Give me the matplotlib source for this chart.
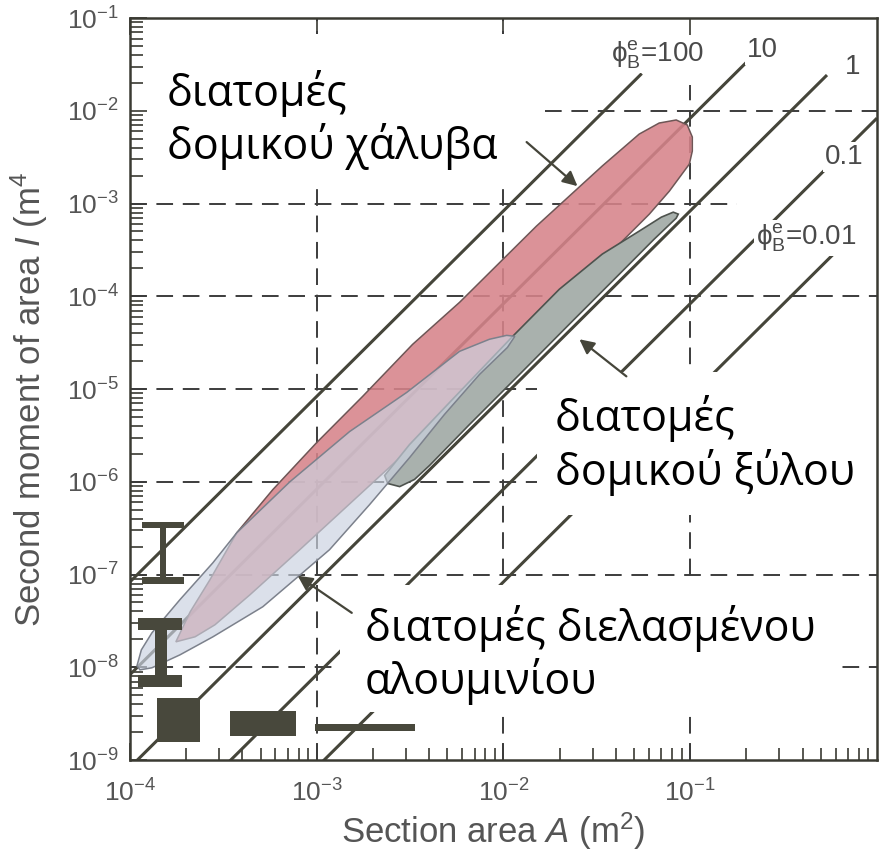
import numpy as np
import matplotlib
matplotlib.use('Agg')
import matplotlib.pyplot as plt
from matplotlib.colors import to_rgba
from matplotlib.patches import Rectangle
from matplotlib.ticker import LogLocator, NullFormatter

plt.rcParams['font.family'] = ['Liberation Sans', 'DejaVu Sans']
plt.rcParams['mathtext.fontset'] = 'custom'
plt.rcParams['mathtext.rm'] = 'Liberation Sans'
plt.rcParams['mathtext.it'] = 'Liberation Sans:italic'
plt.rcParams['mathtext.bf'] = 'Liberation Sans:bold'
plt.rcParams['lines.scale_dashes'] = False

# 1. Shape factor guide lines, I = phi * A^2 / 12
phi_values = [100, 10, 1, 0.1, 0.01]
phi_A_end = [0.055, 0.2, 0.54, 1.0, 0.6]
phi_labels = ['ϕ$^{\\rm e}_{\\rm B}$=100', '10', '1', '0.1', 'ϕ$^{\\rm e}_{\\rm B}$=0.01']

# 2. Envelopes (section area A [m2], second moment I [m4])
steel_A = [1.76e-4, 2.10e-4, 2.68e-4, 3.73e-4, 5.82e-4, 1.0e-3, 1.76e-3, 3.26e-3, 5.82e-3,
           1.50e-2, 3.38e-2, 5.33e-2, 6.82e-2, 8.41e-2, 9.64e-2, 0.1026, 0.1026, 0.0989,
           0.0773, 6.04e-2, 4.17e-2, 2.55e-2, 1.56e-2, 7.45e-3, 3.56e-3, 1.70e-3, 8.11e-4,
           4.39e-4, 2.85e-4, 2.23e-4]
steel_I = [1.88e-8, 3.96e-8, 8.79e-8, 2.82e-7, 8.24e-7, 2.65e-6, 8.32e-6, 3.03e-5, 8.61e-5,
           5.70e-4, 2.54e-3, 5.61e-3, 7.38e-3, 7.96e-3, 7.03e-3, 5.21e-3, 3.68e-3, 2.66e-3,
           1.36e-3, 7.69e-4, 3.65e-4, 1.35e-4, 4.99e-5, 1.12e-5, 2.86e-6, 7.28e-7, 1.85e-7,
           6.05e-8, 2.87e-8, 2.13e-8]

wood_A = [2.31e-3, 3.14e-3, 5.33e-3, 1.12e-2, 1.99e-2, 3.38e-2, 5.33e-2, 7.0e-2, 8.11e-2, 8.63e-2,
          8.41e-2, 6.41e-2, 4.17e-2, 2.25e-2, 1.22e-2, 6.58e-3, 4.02e-3, 3.34e-3, 2.78e-3, 2.40e-3]
wood_I = [1.17e-6, 2.52e-6, 7.73e-6, 3.70e-5, 1.19e-4, 2.85e-4, 5.04e-4, 7.13e-4, 8.07e-4, 7.69e-4,
          6.95e-4, 4.13e-4, 1.73e-4, 4.99e-5, 1.44e-5, 4.15e-6, 1.50e-6, 1.06e-6, 8.87e-7, 9.58e-7]

alu_A = [1.09e-4, 1.15e-4, 1.31e-4, 1.85e-4, 2.78e-4, 3.73e-4, 7.18e-4, 1.50e-3, 3.03e-3, 5.82e-3,
         8.41e-3, 1.04e-2, 1.15e-2, 1.05e-2, 7.45e-3, 4.83e-3, 3.14e-3, 1.92e-3, 1.17e-3, 7.82e-4,
         5.14e-4, 2.78e-4, 1.85e-4, 1.31e-4, 1.13e-4]
alu_I = [1.04e-8, 1.54e-8, 2.35e-8, 5.35e-8, 1.34e-7, 2.82e-7, 1.0e-6, 3.48e-6, 9.18e-6, 2.55e-5,
         3.44e-5, 3.79e-5, 3.70e-5, 2.81e-5, 1.44e-5, 5.32e-6, 1.82e-6, 5.68e-7, 1.85e-7, 9.23e-8,
         4.49e-8, 2.13e-8, 1.36e-8, 9.87e-9, 9.37e-9]

# 3. Section icons as (A_left, A_right, I_bottom, I_top)
icons = [
    (1.16e-4, 1.94e-4, 3.20e-7, 3.72e-7),   # thin I-beam, flanges and web
    (1.45e-4, 1.56e-4, 9.47e-8, 3.20e-7),
    (1.16e-4, 1.94e-4, 7.96e-8, 9.47e-8),
    (1.10e-4, 1.90e-4, 2.54e-8, 3.41e-8),   # thick I-beam
    (1.36e-4, 1.58e-4, 8.28e-9, 2.54e-8),
    (1.10e-4, 1.90e-4, 6.14e-9, 8.28e-9),
    (1.39e-4, 2.37e-4, 1.56e-9, 4.67e-9),   # square
    (3.42e-4, 7.70e-4, 1.82e-9, 3.38e-9),   # flat bar
    (9.77e-4, 3.35e-3, 2.06e-9, 2.45e-9),   # thin strip
]

# 4. Callouts (Greek labels) and their arrows: tail, head in (A, I)
steel_text = ['διατομές', 'δομικού χάλυβα']
wood_text = ['διατομές', 'δομικού ξύλου']
alu_text = ['διατομές διελασμένου', 'αλουμινίου']
arrow_tail = [(1.33e-2, 4.60e-3), (4.55e-2, 1.37e-5), (1.54e-3, 3.86e-8)]
arrow_head = [(2.49e-2, 1.54e-3), (2.55e-2, 3.44e-5), (7.9e-4, 9.7e-8)]

grid_A = [1e-3, 1e-2, 1e-1]
grid_A_top = [1.0, 1.0, 0.91]
grid_I = [1e-8, 1e-7, 1e-6, 1e-5, 1e-4, 1e-3, 1e-2]
grid_I_from = [0, 0, 0, 0, 0, 0, 0.556]
grid_I_to = [1, 1, 1, 1, 1, 0.813, 1]

dark = '#45453a'
grey_txt = '#555555'

fig = plt.figure(figsize=(8.82, 8.55), dpi=100)
ax = fig.add_axes([0.1474, 0.1111, 0.8469, 0.8678])
ax.set_xscale('log')
ax.set_yscale('log')
ax.set_xlim(1e-4, 1)
ax.set_ylim(1e-9, 1e-1)

# grid
for gx, top in zip(grid_A, grid_A_top):
    ax.axvline(gx, ymin=0, ymax=top, color='#3c3c3c', lw=1.4, dashes=[12, 7], zorder=1.6)
for gy, x0, x1 in zip(grid_I, grid_I_from, grid_I_to):
    ax.axhline(gy, xmin=x0, xmax=x1, color='#3c3c3c', lw=1.4, dashes=[12, 7], zorder=1.6)

# phi lines
for p, a_end in zip(phi_values, phi_A_end):
    a = np.array([1e-5, a_end])
    ax.plot(a, p * a ** 2 / 12, color=dark, lw=2.2, zorder=2, solid_capstyle='butt')

# envelopes
ax.fill(steel_A, steel_I, facecolor=to_rgba('#d6838a', 0.88), edgecolor='#6e5656', lw=1.1, zorder=2.1)
ax.fill(wood_A, wood_I, facecolor='#a9b1ad', edgecolor='#4e534e', lw=1.2, zorder=2.2)
ax.fill(alu_A, alu_I, facecolor=to_rgba('#cbd2e0', 0.68), edgecolor='#7c818c', lw=1.1, zorder=2.3)

for a0, a1, i0, i1 in icons:
    ax.fill([a0, a1, a1, a0], [i0, i0, i1, i1], color='#48483c', lw=0, zorder=2.35)

# white callout panels
panels = [(0.027, 0.776, 0.504, 0.202), (0.545, 0.330, 0.455, 0.193), (0.281, 0.065, 0.660, 0.171)]
for x0, y0, w, h in panels:
    ax.add_patch(Rectangle((x0, y0), w, h, transform=ax.transAxes, facecolor='white',
                           edgecolor='none', zorder=2.4))

# phi labels
phi_pos = [(0.7055, 0.950), (0.847, 0.957), (0.968, 0.934), (0.956, 0.813), (0.905, 0.7035)]
for txt, (px, py) in zip(phi_labels, phi_pos):
    ax.text(px, py, txt, transform=ax.transAxes, ha='center', va='center', fontsize=20,
            color='#4a4a4a', zorder=2.45,
            bbox=dict(facecolor='white', edgecolor='none', pad=1.5))

for (ta, ti), (ha_, hi) in zip(arrow_tail, arrow_head):
    ax.annotate('', xy=(ha_, hi), xytext=(ta, ti), zorder=3,
                arrowprops=dict(arrowstyle='-|>', color=dark, lw=1.6, mutation_scale=22,
                                shrinkA=0, shrinkB=0))

# Greek texts
greek = dict(transform=ax.transAxes, fontsize=31, family='Open Sans', color='black',
             ha='left', va='baseline', zorder=4)
for txt, yy in zip(steel_text, [0.8814, 0.810]):
    ax.text(0.0495, yy, txt, **greek)
for txt, yy in zip(wood_text, [0.4434, 0.3706]):
    ax.text(0.569, yy, txt, **greek)
for txt, yy in zip(alu_text, [0.1604, 0.0889]):
    ax.text(0.3146, yy, txt, **greek)

# axes styling
for s in ax.spines.values():
    s.set_linewidth(1.8)
    s.set_color('#3a3a32')
ax.xaxis.set_minor_locator(LogLocator(base=10, subs=np.arange(2, 10), numticks=50))
ax.yaxis.set_minor_locator(LogLocator(base=10, subs=np.arange(2, 10), numticks=50))
ax.xaxis.set_minor_formatter(NullFormatter())
ax.yaxis.set_minor_formatter(NullFormatter())
ax.set_xticks([1e-4, 1e-3, 1e-2, 1e-1])
ax.set_yticks([1e-9, 1e-8, 1e-7, 1e-6, 1e-5, 1e-4, 1e-3, 1e-2, 1e-1])
ax.tick_params(which='both', direction='in', top=True, right=False, color='#3a3a32',
               width=1.2, labelcolor=grey_txt, labelsize=19)
ax.tick_params(which='major', length=12)
ax.tick_params(which='minor', length=9, top=False)
ax.tick_params(axis='x', pad=14)
ax.tick_params(axis='y', pad=8)

ax.set_xlabel('Section area $A$ (m$^2$)', fontsize=25, color=grey_txt)
ax.set_ylabel('Second moment of area $I$ (m$^4$', fontsize=25, color=grey_txt)
ax.xaxis.set_label_coords(0.486, -0.068)
ax.yaxis.set_label_coords(-0.107, 0.4865)

fig.savefig('out.png', dpi=100)
